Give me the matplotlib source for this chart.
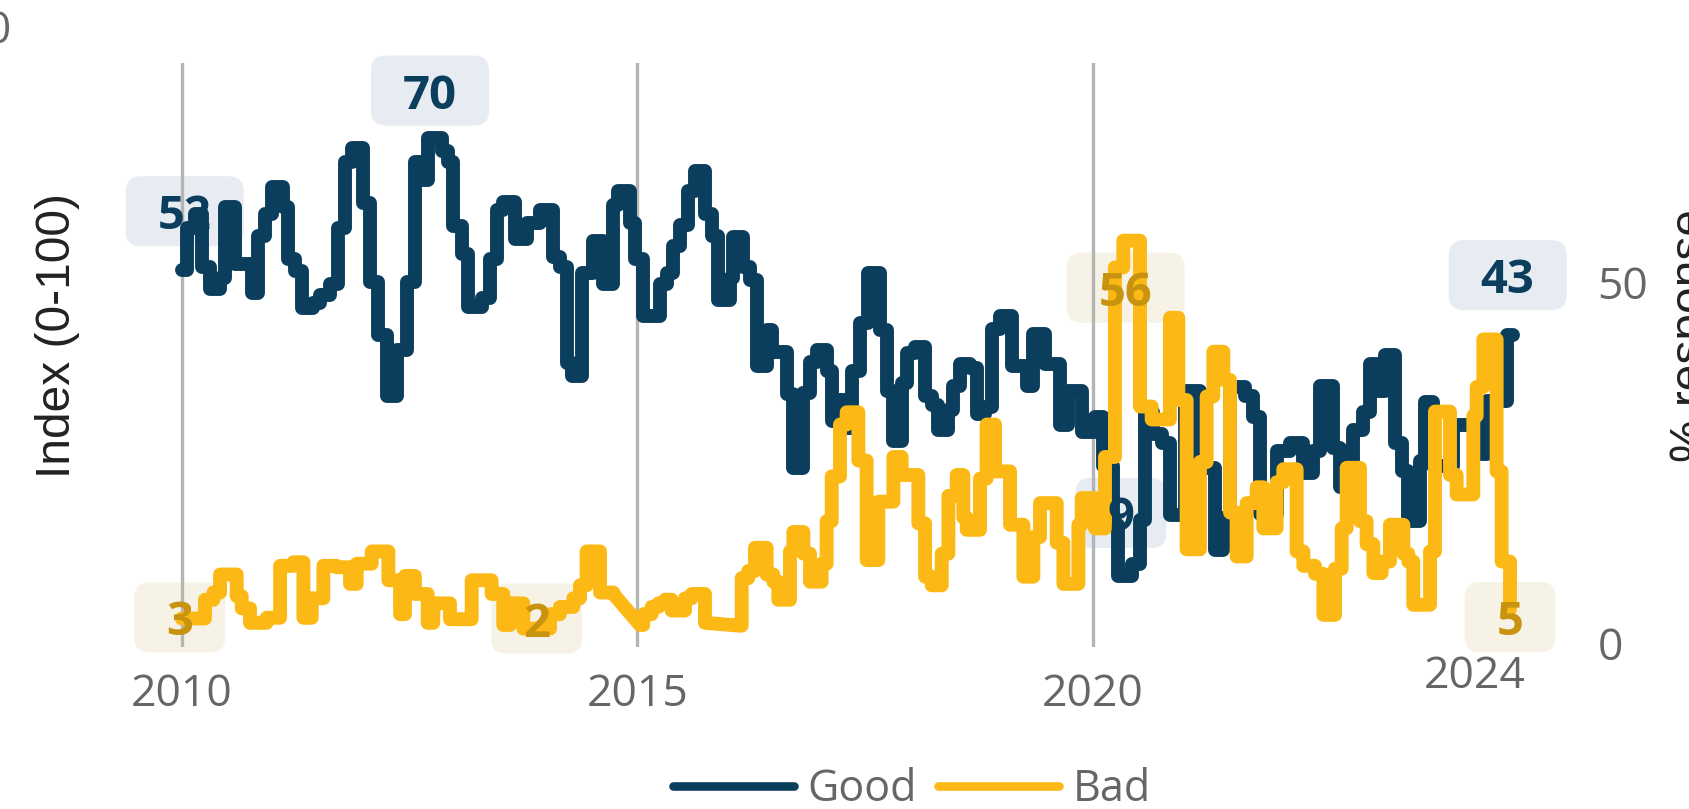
import matplotlib
matplotlib.use("Agg")
import matplotlib.pyplot as plt
from matplotlib.lines import Line2D
from matplotlib.patches import FancyBboxPatch
import matplotlib.transforms as mtransforms

# ---------------- data ----------------
good_dates = [
    2010.000, 2010.055, 2010.146, 2010.220, 2010.311, 2010.421, 2010.476, 2010.586, 2010.768, 2010.842,
    2010.915, 2010.988, 2011.116, 2011.171, 2011.244, 2011.317, 2011.445, 2011.519, 2011.628, 2011.720,
    2011.793, 2011.866, 2011.994, 2012.067, 2012.159, 2012.250, 2012.360,
    2012.469, 2012.561, 2012.634, 2012.707, 2012.853, 2012.927, 2012.981, 2013.073, 2013.146, 2013.292,
    2013.384, 2013.457, 2013.530, 2013.658, 2013.786, 2013.933, 2014.079, 2014.152, 2014.226, 2014.280,
    2014.390, 2014.518, 2014.628, 2014.738, 2014.793, 2014.921,
    2014.976, 2015.067, 2015.250, 2015.323, 2015.397, 2015.470, 2015.561, 2015.634, 2015.744, 2015.817,
    2015.891, 2016.019, 2016.055, 2016.165, 2016.238, 2016.311, 2016.421, 2016.476, 2016.641, 2016.714,
    2016.824, 2016.897, 2016.970, 2017.080, 2017.135, 2017.208, 2017.281, 2017.354, 2017.446,
    2017.537, 2017.666, 2017.739, 2017.812, 2017.903, 2017.958, 2018.050, 2018.160, 2018.233, 2018.306,
    2018.416, 2018.470, 2018.544, 2018.653, 2018.727, 2018.818, 2018.891, 2018.983, 2019.111, 2019.276,
    2019.349, 2019.477, 2019.642, 2019.733, 2019.879,
    2020.025, 2020.116, 2020.226, 2020.281, 2020.427, 2020.519, 2020.574, 2020.665, 2020.757, 2020.848,
    2021.013, 2021.177, 2021.342, 2021.434, 2021.507, 2021.671, 2021.763, 2021.836, 2022.019, 2022.165,
    2022.312, 2022.422, 2022.495,
    2022.641, 2022.715, 2022.861, 2022.971, 2023.044, 2023.117, 2023.208, 2023.318, 2023.391, 2023.465,
    2023.593, 2023.648, 2023.739, 2023.959, 2024.215, 2024.325, 2024.544, 2024.610,
]
good_vals = [
    51.7, 57.5, 59.5, 52.1, 49.1, 50.6, 60.5, 52.6, 48.6, 56.5,
    59.5, 63.2, 60.5, 53.3, 51.6, 46.4, 47.1, 48.3, 49.8, 57.5,
    66.7, 68.7, 61.0, 50.1, 42.7, 34.2, 40.7,
    50.1, 66.7, 64.2, 70.1, 68.2, 66.7, 57.8, 54.0, 46.6, 47.8,
    53.3, 60.0, 61.2, 56.0, 58.3, 60.0, 53.5, 52.1, 38.9, 37.0,
    51.3, 55.8, 49.8, 60.7, 62.7, 58.2,
    53.3, 45.4, 49.8, 51.3, 55.0, 58.0, 62.7, 65.4, 59.5, 56.5,
    47.6, 50.6, 56.3, 52.1, 50.3, 38.4, 43.4, 40.4, 34.5, 24.3,
    34.7, 39.0, 40.7, 37.7, 30.8, 33.7, 29.8, 37.7, 44.4,
    51.3, 43.4, 35.0, 28.0, 36.0, 40.2, 41.0, 34.2, 33.0, 29.5,
    32.3, 35.7, 38.7, 38.2, 31.8, 32.8, 43.6, 45.4, 38.4, 35.7,
    42.9, 38.7, 30.3, 35.0, 29.3,
    31.3, 24.6, 16.4, 9.3, 11.0, 17.1, 32.0, 29.0, 27.8, 17.7,
    35.0, 24.3, 12.9, 17.4, 35.5, 34.2, 31.3, 17.9, 26.6, 27.8,
    23.6, 26.6, 35.7,
    27.0, 21.7, 29.6, 32.1, 38.7, 35.0, 40.0, 27.8, 23.8, 16.9,
    25.2, 33.4, 24.6, 30.2, 26.2, 33.6, 42.7, 42.7,
]

bad_dates = [
    2010.000, 2010.256, 2010.348, 2010.421, 2010.604, 2010.659, 2010.750, 2010.933, 2011.080, 2011.226,
    2011.336, 2011.427, 2011.555, 2011.702, 2011.848, 2011.921, 2012.086, 2012.269, 2012.397,
    2012.451, 2012.560, 2012.700, 2012.762, 2012.945, 2013.183, 2013.402, 2013.530, 2013.603, 2013.750,
    2014.043, 2014.152, 2014.299, 2014.372, 2014.445, 2014.592, 2014.738,
    2015.031, 2015.067, 2015.159, 2015.232, 2015.305, 2015.378, 2015.525, 2015.598, 2015.744, 2016.128,
    2016.147, 2016.220, 2016.293, 2016.421, 2016.494, 2016.549, 2016.677, 2016.714, 2016.824, 2016.897,
    2017.025, 2017.080, 2017.135, 2017.226, 2017.299, 2017.428,
    2017.519, 2017.647, 2017.812, 2017.903, 2018.086, 2018.160, 2018.233, 2018.343, 2018.416, 2018.507,
    2018.580, 2018.617, 2018.763, 2018.836, 2018.928, 2019.093, 2019.239, 2019.349, 2019.422, 2019.605,
    2019.678, 2019.843, 2019.879,
    2020.025, 2020.135, 2020.244, 2020.336, 2020.519, 2020.647, 2020.848, 2020.940, 2021.031, 2021.177,
    2021.251, 2021.324, 2021.434, 2021.507, 2021.580, 2021.690, 2021.800, 2021.873, 2022.019, 2022.092,
    2022.239, 2022.312, 2022.440, 2022.532,
    2022.660, 2022.733, 2022.788, 2022.934, 2023.007, 2023.081, 2023.172, 2023.263, 2023.410, 2023.465,
    2023.519, 2023.703, 2023.757, 2023.922, 2023.995, 2024.178, 2024.215, 2024.288, 2024.434, 2024.489,
    2024.581,
]
bad_vals = [
    3.4, 6.0, 7.0, 9.5, 6.5, 4.8, 2.8, 3.5, 10.7, 11.2,
    3.5, 6.2, 10.7, 10.5, 8.2, 11.0, 12.7, 8.7, 4.0,
    9.3, 6.8, 2.8, 5.5, 3.3, 8.7, 6.8, 2.5, 5.5, 2.0,
    4.0, 5.0, 6.2, 8.0, 12.7, 7.0, 6.8,
    2.5, 4.0, 5.0, 5.5, 6.0, 4.5, 6.2, 6.8, 2.8, 2.4,
    9.0, 10.0, 13.2, 9.5, 8.5, 6.0, 12.7, 15.4, 12.4, 8.5,
    11.0, 16.9, 23.1, 30.3, 32.0, 25.3,
    11.5, 19.6, 25.8, 23.3, 16.6, 9.2, 8.0, 12.4, 20.4, 23.3,
    17.4, 15.7, 22.8, 30.3, 23.8, 16.4, 9.2, 14.7, 19.4, 13.9,
    8.2, 16.4, 20.1,
    15.9, 25.8, 52.1, 55.8, 32.8, 31.0, 45.1, 33.7, 13.0, 25.1,
    34.2, 40.4, 36.5, 18.1, 12.0, 19.4, 21.6, 15.9, 22.3, 24.1,
    12.7, 10.7, 9.6, 3.9,
    10.3, 15.9, 24.3, 16.9, 13.7, 9.7, 11.3, 16.4, 12.4, 11.3,
    5.3, 12.7, 32.1, 23.3, 20.6, 31.5, 35.5, 42.1, 23.8, 11.3,
    4.7,
]
# dates after which the Bad series has no survey and is joined by a straight line
bad_gap_starts = [2014.738, 2015.744]

series_names = ["Good", "Bad"]
x_ticks = [2010, 2015, 2020]
x_tick_labels = ["2010", "2015", "2020"]
y_ticks = [0, 50]
y_tick_labels = ["0", "50"]
last_year_label = "2024"

# ---------------- style ----------------
NAVY = "#0b3d5c"
GOLD = "#fcb916"
GOLD_TXT = "#c8930f"
GOOD_BOX = "#e6ecf1"
BAD_BOX = "#f6f2e5"
GRAY_TXT = "#666666"

W, H = 1690, 809
fig = plt.figure(figsize=(W / 100, H / 100), dpi=100)

# axes placed so that 2010 -> x=181.7 px, 91.1 px/year; 0 -> y=643 px, 7.21 px/unit
left_px, right_px, top_px, bot_px = 120, 1560, 63, 647
ax = fig.add_axes([left_px / W, 1 - bot_px / H, (right_px - left_px) / W, (bot_px - top_px) / H])
x0 = 2010 + (left_px - 181.7) / 91.1
x1 = 2010 + (right_px - 181.7) / 91.1
y0 = (643 - bot_px) / 7.21
y1 = (643 - top_px) / 7.21
ax.set_xlim(x0, x1)
ax.set_ylim(y0, y1)
for s in ax.spines.values():
    s.set_visible(False)


def step_path(dates, vals, gaps=()):
    xs, ys = [], []
    for i in range(len(dates)):
        xs.append(dates[i])
        ys.append(vals[i])
        if i + 1 < len(dates) and not any(abs(dates[i] - g) < 1e-6 for g in gaps):
            xs.append(dates[i + 1])
            ys.append(vals[i])
    return xs, ys


LW = 10
gx, gy = step_path(good_dates, good_vals)
bx, by = step_path(bad_dates, bad_vals, bad_gap_starts)
ax.plot(gx, gy, color=NAVY, lw=LW, solid_joinstyle="round", solid_capstyle="round", zorder=2)
ax.plot(bx, by, color=GOLD, lw=LW, solid_joinstyle="round", solid_capstyle="round", zorder=3)

ax.set_xticks(x_ticks)
ax.set_xticklabels(x_tick_labels)
ax.grid(axis="x", color="#b5b5b5", lw=2.4, zorder=0.5)
ax.grid(axis="y", visible=False)
ax.set_axisbelow(True)
ax.tick_params(axis="x", length=0, pad=18, labelsize=32, labelcolor=GRAY_TXT)
ax.yaxis.tick_right()
ax.set_yticks(y_ticks)
ax.set_yticklabels(y_tick_labels)
ax.tick_params(axis="y", length=0, pad=27, labelsize=32, labelcolor=GRAY_TXT)
for t in ax.get_xticklabels() + ax.get_yticklabels():
    t.set_family("Open Sans")

trans_x = mtransforms.blended_transform_factory(ax.transData, ax.transAxes)
ax.text(2024.19, -(677 - bot_px) / (bot_px - top_px), last_year_label, transform=trans_x,
        ha="center", va="center", fontsize=32, color=GRAY_TXT, family="Open Sans")

fig.text(57 / W, 1 - 335 / H, "Index (0-100)", rotation=90, ha="center", va="center",
         fontsize=34.5, family="Liberation Sans", color="#222222")
fig.text(1692 / W, 1 - 335 / H, "% response", rotation=90, ha="center", va="center",
         fontsize=34.5, family="Liberation Sans", color="#222222")
fig.text(11 / W, 1 - 32 / H, "100", ha="right", va="center", fontsize=32,
         family="Open Sans", color=GRAY_TXT)

# ---------------- labels ----------------
def seg_center(dates, i):
    return (dates[i] + dates[i + 1]) / 2 if i + 1 < len(dates) else dates[i]

gi_max = good_vals.index(max(good_vals))
gi_min = good_vals.index(min(good_vals))
bi_max = bad_vals.index(max(bad_vals))
bi_min = bad_vals.index(min(bad_vals))

labels = [
    # x, value, offset(px), text colour, box colour
    (good_dates[0], good_vals[0], (3, 59), NAVY, GOOD_BOX),
    (seg_center(good_dates, gi_max), good_vals[gi_max], (-5, 47), NAVY, GOOD_BOX),
    (seg_center(good_dates, gi_min), good_vals[gi_min], (-4, 63), NAVY, GOOD_BOX),
    (good_dates[-1], good_vals[-1], (-5, 60), NAVY, GOOD_BOX),
    (bad_dates[0], bad_vals[0], (-2, 1), GOLD_TXT, BAD_BOX),
    (seg_center(bad_dates, bi_min), bad_vals[bi_min], (0, 10), GOLD_TXT, BAD_BOX),
    (seg_center(bad_dates, bi_max), bad_vals[bi_max], (-6, -47), GOLD_TXT, BAD_BOX),
    (bad_dates[-1], bad_vals[-1], (0, -8), GOLD_TXT, BAD_BOX),
]

texts = []
for x, v, (dx, dy), tc, bc in labels:
    t = ax.annotate(f"{round(v)}", xy=(x, v), xytext=(dx, dy), textcoords="offset pixels",
                    ha="center", va="center_baseline", fontsize=34, fontweight="bold",
                    family="Open Sans", color=tc, zorder=6, annotation_clip=False)
    texts.append((t, x, v, dx, dy, bc))

fig.canvas.draw()
for t, x, v, dx, dy, bc in texts:
    bb = t.get_window_extent()
    cx, cy = ax.transData.transform((x, v))
    cx += dx
    cy += dy
    w = bb.width + 64
    h = 70
    p = FancyBboxPatch((cx - w / 2, cy - h / 2), w, h,
                       boxstyle="round,pad=0,rounding_size=15",
                       transform=mtransforms.IdentityTransform(),
                       facecolor=bc, edgecolor="none", zorder=0.3, clip_on=False)
    ax.add_artist(p)

# ---------------- legend ----------------
handles = [Line2D([], [], color=NAVY, lw=6.2, solid_capstyle="round"),
           Line2D([], [], color=GOLD, lw=6.2, solid_capstyle="round")]
fig.legend(handles, series_names, loc="center", bbox_to_anchor=(912 / W, 1 - 790 / H), ncol=2,
           frameon=False, prop={"family": "Open Sans", "size": 31},
           handlelength=2.81, handletextpad=0.3, columnspacing=0.5, labelcolor=GRAY_TXT,
           borderaxespad=0, borderpad=0)

fig.savefig("out.png", dpi=100)
